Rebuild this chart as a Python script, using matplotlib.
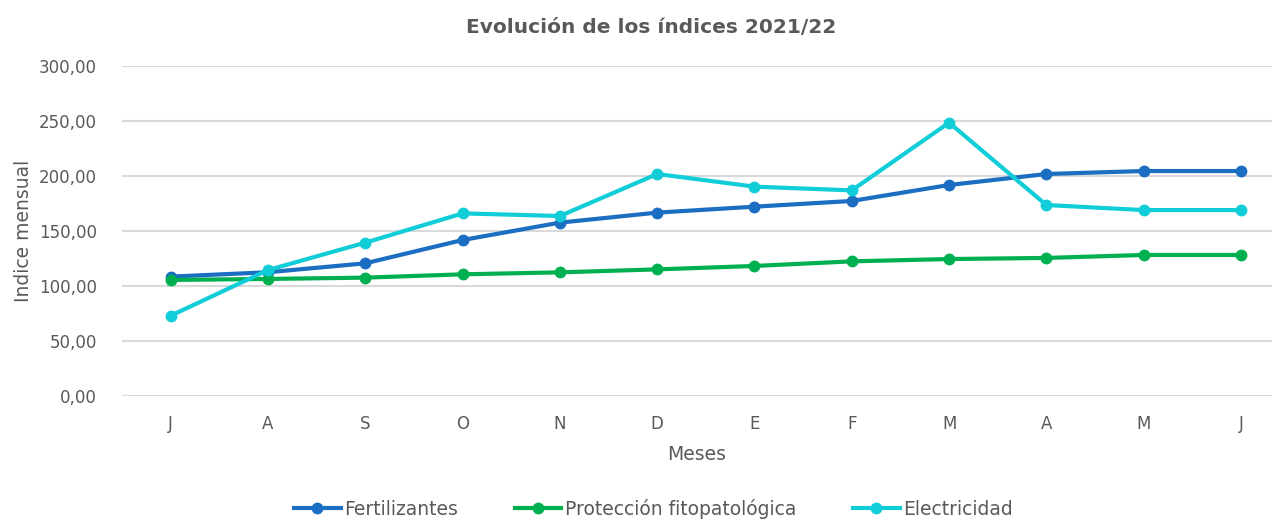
import matplotlib.pyplot as plt
import numpy as np

meses = ['J', 'A', 'S', 'O', 'N', 'D', 'E', 'F', 'M', 'A', 'M', 'J']
fertilizantes = [108.5, 112.5, 120.6, 141.8, 157.6, 166.7, 172.1, 177.3, 191.8, 201.8, 204.5, 204.5]
proteccion = [105.5, 106.4, 107.6, 110.6, 112.4, 115.1, 118.2, 122.4, 124.5, 125.5, 128.2, 128.2]
electricidad = [73.0, 114.5, 139.4, 166.0, 163.6, 201.8, 190.3, 186.9, 248.5, 173.6, 169.0, 169.0]
yticks = [0, 50, 100, 150, 200, 250, 300]

gris = '#595959'
plt.rcParams['font.family'] = ['DejaVu Sans']

fig = plt.figure(figsize=(12.74, 5.22), dpi=100)
ax = fig.add_axes([0.0958, 0.2414, 0.9027, 0.6322])

x = np.arange(len(meses))
ax.plot(x, fertilizantes, color='#1B6EC2', lw=3, marker='o', ms=7.5, label='Fertilizantes', zorder=3)
ax.plot(x, proteccion, color='#00B050', lw=3, marker='o', ms=7.5, label='Protección fitopatológica', zorder=3)
ax.plot(x, electricidad, color='#10CDD8', lw=3, marker='o', ms=7.5, label='Electricidad', zorder=3)

ax.set_xlim(-0.5, 11.32)
ax.set_ylim(0, 300)
ax.set_yticks(yticks)
ax.set_yticklabels([f'{v:.2f}'.replace('.', ',') for v in yticks])
ax.set_xticks(x)
ax.set_xticklabels(meses)
ax.tick_params(length=0, colors=gris, labelsize=12)
ax.tick_params(axis='y', pad=18)
ax.tick_params(axis='x', pad=14)
ax.grid(axis='y', color='#D9D9D9', lw=1.5)
for s in ax.spines.values():
    s.set_visible(False)

ax.set_xlabel('Meses', color=gris, fontsize=13.5, labelpad=8)
ax.set_ylabel('Indice mensual', color=gris, fontsize=13.5, labelpad=4)
fig.text(0.511, 0.948, 'Evolución de los índices 2021/22', ha='center', va='center',
         fontsize=14.5, fontweight='bold', color=gris)

fig.legend(loc='center', bbox_to_anchor=(0.513, 0.025), ncol=3, frameon=False,
           fontsize=13.5, labelcolor=gris, handlelength=2.5, columnspacing=3.0, handletextpad=0.2)

fig.savefig('out.png', dpi=100)
